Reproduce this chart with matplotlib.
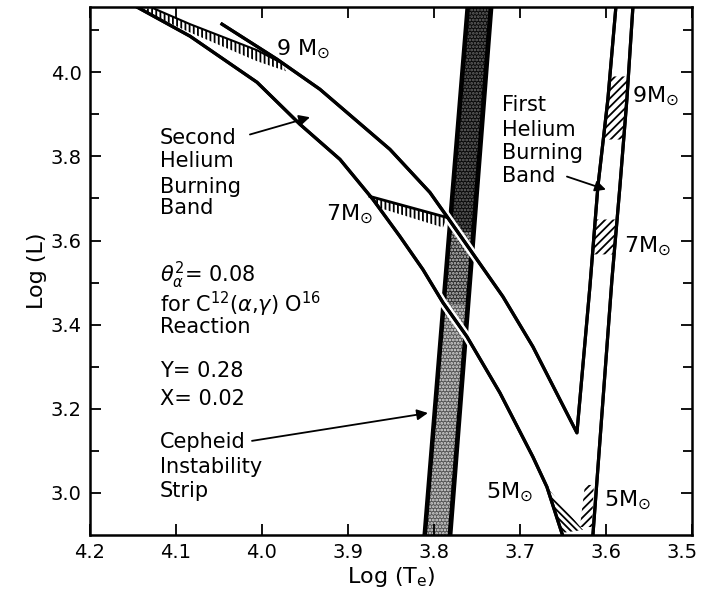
import numpy as np
import matplotlib
matplotlib.use("Agg")
from matplotlib import pyplot as plt
import matplotlib.patheffects as pe
import matplotlib.transforms as mtrans

plt.rcParams['font.family'] = ['DejaVu Sans']
plt.rcParams['mathtext.fontset'] = 'dejavusans'
plt.rcParams['hatch.linewidth'] = 1.3

## second helium burning band, lower edge
lower_te = [4.1454, 4.0837, 4.0058, 3.9558, 3.9093, 3.8709, 3.8395, 3.8128, 3.7895,
            3.7616, 3.7233, 3.6849, 3.6686, 3.6505]
lower_logl = [4.155, 4.0857, 3.9762, 3.8762, 3.7929, 3.6976, 3.6095, 3.5310, 3.4524,
              3.3714, 3.2381, 3.0857, 3.0143, 2.9]
## upper edge, turning up into the first band at the V
upper_te = [4.0465, 3.9826, 3.9326, 3.8512, 3.8047, 3.7849, 3.7581, 3.7198, 3.6849, 3.6337,
            3.6186, 3.6093, 3.5977, 3.5884]
upper_logl = [4.1143, 4.0310, 3.9595, 3.8167, 3.7143, 3.6571, 3.5786, 3.4667, 3.3476, 3.1429,
              3.4905, 3.7286, 3.9357, 4.155]
## first helium burning band, right edge
right_te = [3.6151, 3.593, 3.5837, 3.5756, 3.5686]
right_logl = [2.9, 3.507, 3.7286, 3.9357, 4.155]
## cepheid strip edges
strip_logl = [2.9, 4.155]
strip_left_te = [3.8140, 3.7640]
strip_right_te = [3.7791, 3.7314]

## mass crossings on the second band (hatched)
m9_upper_te = [4.1267, 4.0837, 4.0058, 3.9767]
m9_upper_logl = [4.1524, 4.1143, 4.0524, 4.0214]
m9_lower_te = [3.9721, 4.0058, 4.0872, 4.1419]
m9_lower_logl = [4.0024, 4.0262, 4.0976, 4.15]
m7_upper_te = [3.8744, 3.7849]
m7_upper_logl = [3.7048, 3.6548]
m7_lower_te = [3.7895, 3.8651]
m7_lower_logl = [3.6310, 3.6786]
m5_te = [3.6686, 3.6267, 3.6512]
m5_logl = [3.014, 2.912, 2.905]
## mass ranges on the first band (hatched)
fb9_range = [3.84, 3.99]
fb7_range = [3.567, 3.65]
fb5_te = [3.6244, 3.6140, 3.6163, 3.6302]
fb5_logl = [3.019, 3.019, 2.919, 2.919]

fig = plt.figure(figsize=(7.01, 5.90), dpi=100)
ax = fig.add_axes([0.1284, 0.0932, 0.8586, 0.8949])
ax.set_xlim(4.2, 3.5)
ax.set_ylim(2.9, 4.155)

# cepheid strip: black band, speckled lighter towards the bottom
ax.fill_betweenx(strip_logl, strip_left_te, strip_right_te, color='black', lw=0, zorder=1)
inner_l = np.array(strip_left_te) - 0.006
inner_r = np.array(strip_right_te) + 0.005
cuts = [2.9, 3.45, 3.62, 4.155]
shades = ['#555555', '#2a2a2a', '#0a0a0a']
dotcol = ['#e0e0e0', '#c8c8c8', '#6a6a6a']
for k in range(3):
    yy = [cuts[k], cuts[k + 1]]
    ax.fill_betweenx(yy, np.interp(yy, strip_logl, inner_l), np.interp(yy, strip_logl, inner_r),
                     facecolor=shades[k], edgecolor=dotcol[k], hatch='.....', lw=0, zorder=1.5)

halo = [pe.Stroke(linewidth=6, foreground='white'), pe.Normal()]
for te, ll in [(lower_te, lower_logl), (upper_te, upper_logl), (right_te, right_logl)]:
    ax.plot(te, ll, color='black', lw=2.3, solid_joinstyle='round', path_effects=halo, zorder=2)

# hatched mass crossings
ax.fill(m9_upper_te + m9_lower_te, m9_upper_logl + m9_lower_logl, facecolor='none',
        edgecolor='black', hatch='||||', lw=0, zorder=3)
ax.plot(m9_upper_te, m9_upper_logl, color='black', lw=1.5, zorder=3)
ax.fill(m7_upper_te + m7_lower_te, m7_upper_logl + m7_lower_logl, facecolor='none',
        edgecolor='black', hatch='||||', lw=0, zorder=3)
ax.plot(m7_upper_te, m7_upper_logl, color='black', lw=2.0, zorder=3)
ax.fill(m5_te, m5_logl, facecolor='none', edgecolor='black', hatch='\\\\\\\\\\', lw=0, zorder=3)
for rng in [fb9_range, fb7_range]:
    yy = np.linspace(rng[0], rng[1], 5)
    ax.fill_betweenx(yy, np.interp(yy, upper_logl[9:], upper_te[9:]), np.interp(yy, right_logl, right_te),
                     facecolor='none', edgecolor='black', hatch='////', lw=0, zorder=3)
ax.fill(fb5_te, fb5_logl, facecolor='none', edgecolor='black', hatch='////', lw=0, zorder=3)

for te, ll in [(lower_te, lower_logl), (upper_te, upper_logl), (right_te, right_logl)]:
    ax.plot(te, ll, color='black', lw=2.3, solid_joinstyle='round', zorder=4)

# labels
fs = 15
def block(x, baselines, lines):
    for b, s in zip(baselines, lines):
        ax.text(x, b, s, fontsize=fs, ha='left', va='baseline', zorder=5)

block(4.1186, [3.8286, 3.7738, 3.714, 3.6619], ['Second', 'Helium', 'Burning', 'Band'])
block(4.1186, [3.500, 3.429, 3.379], [r'$\theta_\alpha^2$= 0.08',
                                       r'for C$^{12}$($\alpha$,$\gamma$) O$^{16}$', 'Reaction'])
block(4.1186, [3.276, 3.2095], ['Y= 0.28', 'X= 0.02'])
block(4.1186, [3.107, 3.0476, 2.990], ['Cepheid', 'Instability', 'Strip'])
block(3.7209, [3.907, 3.8476, 3.793, 3.738], ['First', 'Helium', 'Burning', 'Band'])

mass_labels = [('9 M$_{\\odot}$', 3.9523, 4.0548), ('7M$_{\\odot}$', 3.8977, 3.662),
               ('9M$_{\\odot}$', 3.5419, 3.943), ('7M$_{\\odot}$', 3.5512, 3.586),
               ('5M$_{\\odot}$', 3.7116, 3.002), ('5M$_{\\odot}$', 3.5744, 2.983)]
for s, x, y in mass_labels:
    ax.text(x, y, s, fontsize=16, ha='center', va='center', zorder=5)

arrow = dict(arrowstyle='-|>', color='black', lw=1.3, mutation_scale=16, shrinkA=0, shrinkB=0)
ax.annotate('', xy=(3.9442, 3.893), xytext=(4.014, 3.852), arrowprops=arrow, zorder=6)
ax.annotate('', xy=(3.807, 3.190), xytext=(4.0116, 3.1238), arrowprops=arrow, zorder=6)
ax.annotate('', xy=(3.600, 3.721), xytext=(3.6453, 3.752), arrowprops=arrow, zorder=6)

# axes styling
for sp in ax.spines.values():
    sp.set_linewidth(1.8)
ax.set_xticks(np.round(np.arange(4.2, 3.49, -0.1), 1))
ax.set_xticklabels(['4.2', '4.1', '4.0', '3.9', '3.8', '3.7', '3.6', '3.5'])
ax.set_yticks([3.0, 3.2, 3.4, 3.6, 3.8, 4.0])
ax.set_yticks([3.1, 3.3, 3.5, 3.7, 3.9, 4.1], minor=True)
ax.tick_params(axis='both', which='major', direction='in', length=8, width=1.3,
               labelsize=14, top=True, right=True, pad=6)
ax.tick_params(axis='y', which='minor', direction='in', length=6.5, width=1.3, right=True)
last = ax.get_xticklabels()[-1]
last.set_transform(last.get_transform() + mtrans.ScaledTranslation(-7 / 72, 0, fig.dpi_scale_trans))
ax.set_xlabel('Log (T$_{\\rm e}$)', fontsize=16, labelpad=2)
ax.set_ylabel('Log (L)', fontsize=16, labelpad=3)

fig.savefig('out.png', dpi=100)
